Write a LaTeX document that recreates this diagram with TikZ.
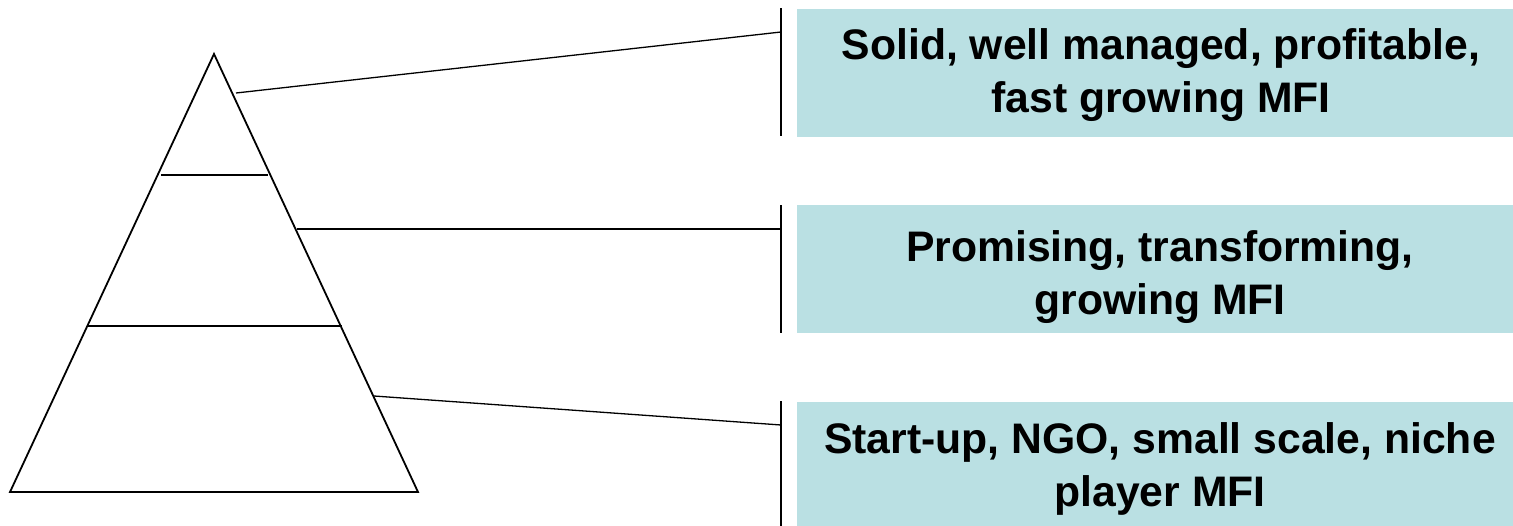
\documentclass[tikz,border=0pt]{standalone}
\usepackage{fontspec}
\setmainfont{Liberation Sans}
\definecolor{tierfill}{RGB}{186,224,227}
\begin{document}
\begin{tikzpicture}[x=1pt,y=-1pt,
  edge/.style={line width=1.8pt, line join=miter},
  leader/.style={line width=1.3pt},
  bar/.style={line width=1.4pt},
  tier/.style={rectangle, fill=tierfill, inner sep=0pt,
    minimum width=716pt, minimum height=128pt, anchor=west},
  tiertext/.style={inner sep=0pt, align=center,
    font=\fontsize{42.7}{53}\selectfont\bfseries}]
\useasboundingbox (0,0) rectangle (1513,525);
\clip (0,0) rectangle (1513,525);

% pyramid outline and tier dividers
\coordinate (apex) at (214,54);
\coordinate (bl) at (10,492);
\coordinate (br) at (418,492);
\draw[edge] (apex) -- (br) -- (bl) -- cycle;
\coordinate (t1l) at (161,175);
\coordinate (t1r) at (268,175);
\coordinate (t2l) at (88,326);
\coordinate (t2r) at (342,326);
\draw[edge] (t1l) -- (t1r);
\draw[edge] (t2l) -- (t2r);

% description boxes
\node[tier] (top) at (797,73) {};
\node[tier] (mid) at (797,269) {};
\node[tier] (low) at (797,466) {};
\node[tiertext] (toptext) at (1161,75) {Solid, well managed, profitable,\\fast growing MFI};
\node[tiertext] (midtext) at (1160,277) {Promising, transforming,\\growing MFI};
\node[tiertext] (lowtext) at (1160,469) {Start-up, NGO, small scale, niche\\player MFI};

% brackets beside the boxes
\coordinate (b1t) at (781,8);   \coordinate (b1b) at (781,136);
\coordinate (b2t) at (781,205); \coordinate (b2b) at (781,333);
\coordinate (b3t) at (781,401); \coordinate (b3b) at (781,530);
\draw[bar] (b1t) -- (b1b);
\draw[bar] (b2t) -- (b2b);
\draw[bar] (b3t) -- (b3b);

% leaders from each tier to its bracket
\coordinate (s1) at (236,93);  \coordinate (e1) at (781,32);
\coordinate (s2) at (297,229); \coordinate (e2) at (781,229);
\coordinate (s3) at (374,396); \coordinate (e3) at (781,425);
\draw[leader] (s1) -- (e1);
\draw[leader] (s2) -- (e2);
\draw[leader] (s3) -- (e3);
\end{tikzpicture}
\end{document}
